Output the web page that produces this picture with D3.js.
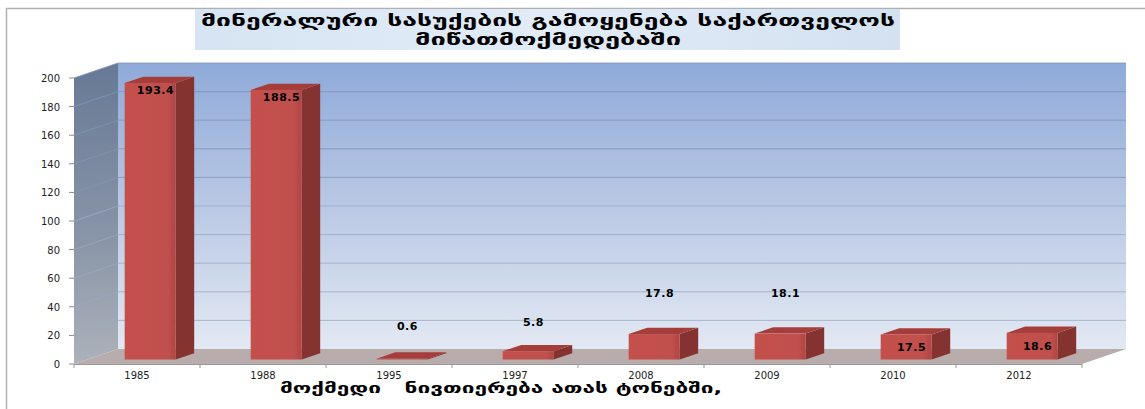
<!DOCTYPE html>
<html>
<head>
<meta charset="UTF-8">
<script src="https://cdn.jsdelivr.net/npm/d3@7"></script>
<style>
body{
  margin:0;
  background:#fff;
  font-family:"DejaVu Sans", sans-serif;
}
</style>
</head>
<body>
<script>
// data
var years = ["1985", "1988", "1995", "1997", "2008", "2009", "2010", "2012"]
var values = [193.4, 188.5, 0.6, 5.8, 17.8, 18.1, 17.5, 18.6]
// where each data label sits, in axis units (labels were dragged around)
var labelAt = [187, 182, 22, 24.5, 45, 45, 7, 7.7]
var yTicks = [0, 20, 40, 60, 80, 100, 120, 140, 160, 180, 200]
var titleLines = ["მინერალური სასუქების გამოყენება საქართველოს", "მიწათმოქმედებაში"]
var xTitle = "მოქმედი   ნივთიერება ათას ტონებში,"

var width = 1145, height = 409
var dx = 44, dy = -15      // depth of the 3d box
var f0 = 0.3, f1 = 0.72    // bar front / back as share of depth
var barShare = 0.405       // bar width as share of a category

var svg = d3.select("body").append("svg")
    .attr("width", width)
    .attr("height", height)

var x = d3.scaleBand().domain(years).range([74, 1082])
var y = d3.scaleLinear().domain([0, 200]).range([364, 78])
var bw = x.bandwidth() * barShare

var defs = svg.append("defs")
function grad(id, stops, vertical){
  let g = defs.append("linearGradient").attr("id", id)
  if (vertical) g.attr("x1", 0).attr("y1", 0).attr("x2", 0).attr("y2", 1)
  else g.attr("x1", 0).attr("y1", 0).attr("x2", 1).attr("y2", 0)
  stops.forEach(function(s){
    g.append("stop").attr("offset", s[0]).attr("stop-color", s[1])
  })
}
grad("wall", [[0, "#8faad9"], [0.5, "#b9c8e4"], [1, "#e3e9f3"]], true)
grad("side", [[0, "#677995"], [0.6, "#8a96a8"], [1, "#acb2ba"]], true)
grad("front", [[0, "#c44f4b"], [0.85, "#c0504d"], [1, "#b04440"]], false)
grad("titlebg", [[0, "#d6e4f3"], [0.5, "#e2ecf7"], [1, "#d3e1f1"]], false)

// outer frame
svg.append("rect")
    .attr("x", 6.5).attr("y", 8.5)
    .attr("width", 1200).attr("height", 500)
    .attr("fill", "none")
    .attr("stroke", "#b0b0b0")
    .attr("stroke-width", 1.5)

// title
svg.append("rect")
    .attr("x", 195).attr("y", 9)
    .attr("width", 705).attr("height", 41)
    .attr("fill", "url(#titlebg)")
svg.selectAll(".title").data(titleLines).enter().append("text")
    .attr("class", "title")
    .attr("x", 548)
    .attr("y", function(d, i){ return 26 + i * 19 })
    .attr("text-anchor", "middle")
    .attr("font-size", 16)
    .attr("font-weight", "bold")
    .attr("fill", "#000")
    .attr("textLength", function(d, i){ return i == 0 ? 694 : 266 })
    .attr("lengthAdjust", "spacingAndGlyphs")
    .text(function(d){ return d })

var x0 = x.range()[0], x1 = x.range()[1]
var y0 = y(0), yTop = y(200)

function pts(a){ return a.map(function(p){ return p.join(",") }).join(" ") }

// back wall
svg.append("polygon")
    .attr("points", pts([[x0 + dx, yTop + dy], [x1 + dx, yTop + dy], [x1 + dx, y0 + dy], [x0 + dx, y0 + dy]]))
    .attr("fill", "url(#wall)")
// side wall
svg.append("polygon")
    .attr("points", pts([[x0, yTop], [x0 + dx, yTop + dy], [x0 + dx, y0 + dy], [x0, y0]]))
    .attr("fill", "url(#side)")
// floor
svg.append("polygon")
    .attr("points", pts([[x0, y0], [x1, y0], [x1 + dx, y0 + dy], [x0 + dx, y0 + dy]]))
    .attr("fill", "#b9acac")

// gridlines
var grid = yTicks.filter(function(t){ return t > 0 })
svg.selectAll(".grid").data(grid).enter().append("polyline")
    .attr("class", "grid")
    .attr("points", function(d){ return pts([[x0, y(d)], [x0 + dx, y(d) + dy], [x1 + dx, y(d) + dy]]) })
    .attr("fill", "none")
    .attr("stroke", function(d){ return d > 100 ? "#7f95b8" : "#9aaac4" })
    .attr("stroke-opacity", 0.8)
    .attr("stroke-width", 1)

// y axis ticks and labels
svg.selectAll(".ytick").data(yTicks).enter().append("line")
    .attr("x1", x0 - 5).attr("x2", x0)
    .attr("y1", function(d){ return y(d) }).attr("y2", function(d){ return y(d) })
    .attr("stroke", "#888")
svg.selectAll(".ylab").data(yTicks).enter().append("text")
    .attr("x", 60)
    .attr("y", function(d){ return y(d) + 4 })
    .attr("text-anchor", "end")
    .attr("font-size", 10)
    .attr("fill", "#222")
    .text(function(d){ return d })

// x axis line and ticks
svg.append("line")
    .attr("x1", x0).attr("x2", x1)
    .attr("y1", y0 + 0.5).attr("y2", y0 + 0.5)
    .attr("stroke", "#999")
var bounds = years.map(function(d){ return x(d) }).concat([x1])
svg.selectAll(".xtick").data(bounds).enter().append("line")
    .attr("x1", function(d){ return d }).attr("x2", function(d){ return d })
    .attr("y1", y0).attr("y2", y0 + 4)
    .attr("stroke", "#999")
svg.selectAll(".xlab").data(years).enter().append("text")
    .attr("x", function(d){ return x(d) + x.bandwidth() / 2 })
    .attr("y", 379)
    .attr("text-anchor", "middle")
    .attr("font-size", 10)
    .attr("fill", "#222")
    .text(function(d){ return d })

// bars
years.forEach(function(yr, i){
  let bx = x(yr) + (x.bandwidth() - bw) / 2 + f0 * dx
  let bb = y0 + f0 * dy
  let ht = y0 - y(values[i])
  let bt = bb - ht
  let ddx = (f1 - f0) * dx, ddy = (f1 - f0) * dy
  let g = svg.append("g")
  // side
  g.append("polygon")
      .attr("points", pts([[bx + bw, bt], [bx + bw + ddx, bt + ddy], [bx + bw + ddx, bb + ddy], [bx + bw, bb]]))
      .attr("fill", "#843330")
  // top
  g.append("polygon")
      .attr("points", pts([[bx, bt], [bx + ddx, bt + ddy], [bx + bw + ddx, bt + ddy], [bx + bw, bt]]))
      .attr("fill", "#a53e3b")
  // front
  g.append("rect")
      .attr("x", bx).attr("y", bt)
      .attr("width", bw).attr("height", Math.max(ht, 0.8))
      .attr("fill", "url(#front)")
})

// data labels
svg.selectAll(".dlab").data(values).enter().append("text")
    .attr("x", function(d, i){ return x(years[i]) + x.bandwidth() / 2 + 0.42 * dx })
    .attr("y", function(d, i){ return y(labelAt[i]) + 0.45 * dy + 4 })
    .attr("text-anchor", "middle")
    .attr("font-size", 11)
    .attr("font-weight", "bold")
    .attr("letter-spacing", 0.5)
    .attr("fill", "#000")
    .text(function(d){ return d3.format(".1f")(d) })

// x axis title
svg.append("text")
    .attr("x", 280)
    .attr("y", 393)
    .attr("font-size", 14)
    .attr("font-weight", "bold")
    .attr("fill", "#000")
    .attr("xml:space", "preserve")
    .style("white-space", "pre")
    .attr("textLength", 442)
    .attr("lengthAdjust", "spacingAndGlyphs")
    .text(xTitle)
</script>
</body>
</html>
